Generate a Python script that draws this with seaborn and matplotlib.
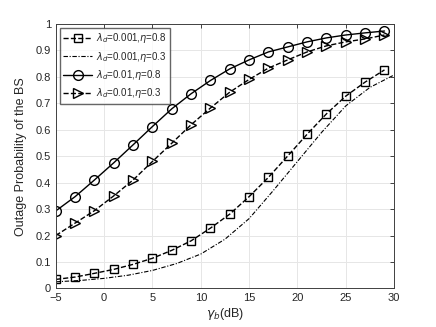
import numpy as np
import pandas as pd
import matplotlib
matplotlib.use("Agg")
import matplotlib.pyplot as plt
import seaborn as sns

# marker points (every 2 dB)
gamma_pts = [-5, -3, -1, 1, 3, 5, 7, 9, 11, 13, 15, 17, 19, 21, 23, 25, 27, 29]
p_001_08 = [0.034, 0.043, 0.057, 0.072, 0.091, 0.114, 0.144, 0.18, 0.228, 0.281,
            0.347, 0.42, 0.501, 0.583, 0.66, 0.727, 0.78, 0.826]
p_01_08 = [0.293, 0.347, 0.41, 0.475, 0.543, 0.612, 0.679, 0.736, 0.786, 0.83,
           0.864, 0.894, 0.913, 0.932, 0.947, 0.958, 0.966, 0.973]
p_01_03 = [0.20, 0.247, 0.294, 0.35, 0.41, 0.48, 0.549, 0.619, 0.682, 0.742,
           0.79, 0.833, 0.864, 0.894, 0.917, 0.932, 0.943, 0.958]

# curve without markers
gamma_line = [-5, -2.5, 0, 2.5, 5, 7.5, 10, 12.5, 15, 17.5, 20, 22.5, 25, 27.5, 30]
p_0001_03 = [0.025, 0.03, 0.038, 0.05, 0.068, 0.094, 0.13, 0.186, 0.264, 0.37,
             0.48, 0.59, 0.69, 0.76, 0.807]

labels = [r"$\lambda_d$=0.001,$\eta$=0.8", r"$\lambda_d$=0.001,$\eta$=0.3",
          r"$\lambda_d$=0.01,$\eta$=0.8", r"$\lambda_d$=0.01,$\eta$=0.3"]

sns.set_style("white", {"xtick.direction": "in", "ytick.direction": "in"})
plt.rcParams['font.family'] = ['Liberation Sans', 'DejaVu Sans']
plt.rcParams['mathtext.fontset'] = 'dejavusans'

fig = plt.figure(figsize=(4.36, 3.27), dpi=100)
ax = fig.add_axes([0.128, 0.118, 0.776, 0.809])

sns.lineplot(x=gamma_pts, y=p_001_08, ax=ax, color='black', linestyle='--', lw=1,
             marker='s', markersize=5.5, markerfacecolor='none', markeredgecolor='black',
             markeredgewidth=1, label=labels[0])
sns.lineplot(x=gamma_line, y=p_0001_03, ax=ax, color='black', lw=0.8,
             dashes=(4, 1.5, 1, 1.5), label=labels[1])
sns.lineplot(x=gamma_pts, y=p_01_08, ax=ax, color='black', linestyle='-', lw=1,
             marker='o', markersize=7, markerfacecolor='none', markeredgecolor='black',
             markeredgewidth=1, label=labels[2])
sns.lineplot(x=gamma_pts, y=p_01_03, ax=ax, color='black', linestyle='--', lw=1,
             marker='>', markersize=7, markerfacecolor='none', markeredgecolor='black',
             markeredgewidth=1, label=labels[3])

ax.set_xlim(-5, 30)
ax.set_ylim(0, 1)
ax.set_xticks(np.arange(-5, 31, 5))
ax.set_yticks(np.arange(0, 1.01, 0.1))
ax.set_yticklabels(["0", "0.1", "0.2", "0.3", "0.4", "0.5", "0.6", "0.7", "0.8", "0.9", "1"])
ax.grid(True, color='#e6e6e6', lw=0.7)
ax.set_axisbelow(True)
for s in ax.spines.values():
    s.set_color('#404040')
    s.set_linewidth(0.7)
ax.tick_params(labelsize=8, colors='#262626', length=3, width=0.6, top=True, right=True)
ax.set_xlabel(r"$\gamma_b$(dB)", fontsize=9, color='#262626', labelpad=2)
ax.set_ylabel("Outage Probability of the BS", fontsize=9, color='#262626', labelpad=6)

ax.legend(loc='upper left', fontsize=7, frameon=True, fancybox=False, edgecolor='#404040',
          handlelength=3.0, borderpad=0.35, labelspacing=0.45, handletextpad=0.4,
          borderaxespad=0.4)

fig.savefig("out.png", dpi=100)
